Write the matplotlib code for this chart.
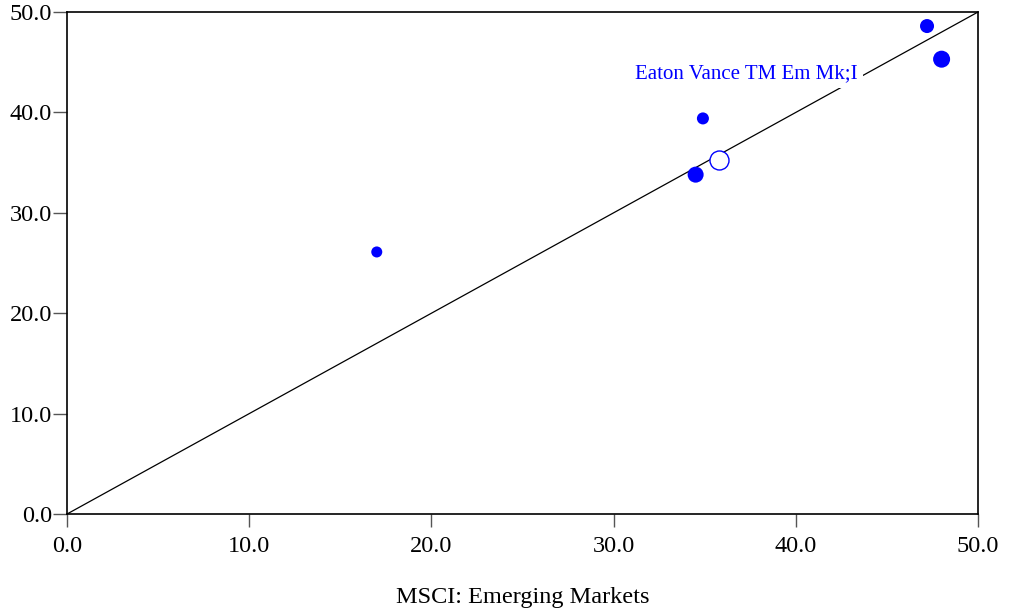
import matplotlib
matplotlib.use("Agg")
import matplotlib.pyplot as plt

plt.rcParams['font.family'] = ['Liberation Serif', 'DejaVu Serif']

# Data
peer_x = [17.0, 34.5, 34.9, 47.2, 48.0]
peer_y = [26.1, 33.8, 39.4, 48.6, 45.3]
peer_size = [63, 133, 75, 102, 150]
fund_x = [35.8]
fund_y = [35.3]
fund_size = [187]
fund_label = "Eaton Vance TM Em Mk;I"
xlabel = "MSCI: Emerging Markets"
ticks = [0, 10, 20, 30, 40, 50]
tick_labels = ["0.0", "10.0", "20.0", "30.0", "40.0", "50.0"]

fig = plt.figure(figsize=(10.11, 6.15), dpi=100)
ax = fig.add_axes([0.0663, 0.1642, 0.9011, 0.8163])

ax.plot([0, 50], [0, 50], color='black', lw=0.9, zorder=1)
ax.scatter(peer_x, peer_y, s=peer_size, color='#0000ff', edgecolors='none', zorder=3)
ax.scatter(fund_x, fund_y, s=fund_size, facecolors='white', edgecolors='#0000ff', linewidths=1.0, zorder=4)

ax.text(31.17, 43.9, fund_label, color='#0000ff', fontsize=15, ha='left', va='center',
        bbox=dict(facecolor='white', edgecolor='none', pad=4), zorder=2)

ax.set_xlim(0, 50)
ax.set_ylim(0, 50)
ax.set_xticks(ticks)
ax.set_xticklabels(tick_labels)
ax.set_yticks(ticks)
ax.set_yticklabels(tick_labels)
ax.tick_params(axis='x', direction='out', length=9, width=1, color='#555555',
               labelsize=17.5, pad=7)
ax.tick_params(axis='y', direction='out', length=10, width=1, color='#555555',
               labelsize=17.5, pad=1)
for sp in ax.spines.values():
    sp.set_linewidth(1.2)
    sp.set_color('black')

ax.set_xlabel(xlabel, fontsize=17.5, va='center')
ax.xaxis.set_label_coords(0.5, -0.167)

fig.savefig("out.png", dpi=100)
